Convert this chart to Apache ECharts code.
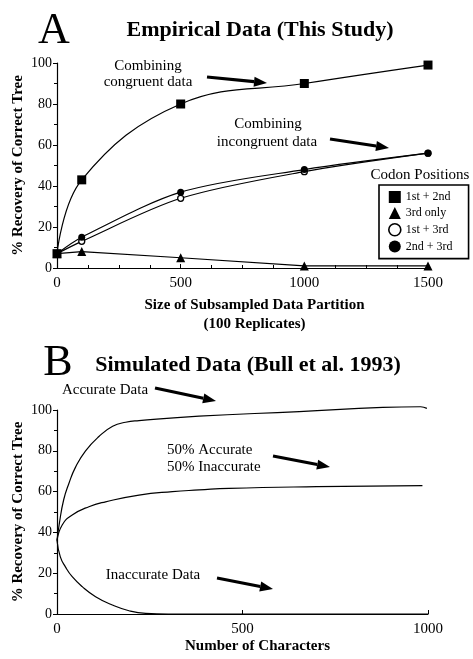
<!DOCTYPE html>
<html>
<head>
<meta charset="utf-8">
<script src="https://cdn.jsdelivr.net/npm/echarts@6/dist/echarts.min.js"></script>
<style>
  html, body { margin: 0; padding: 0; background: #fff; }
  #chart { width: 473px; height: 659px; }
</style>
</head>
<body>
<div id="chart"></div>
<script>
// Panel A: recovery of the correct tree vs. size of subsampled partition
const partitionSizes = [0, 100, 500, 1000, 1500];
const codon12 = [7, 43, 80, 90, 99];   // 1st + 2nd
const codon3  = [7, 8, 5, 1, 1];       // 3rd only
const codon13 = [7, 13, 34, 47, 56];   // 1st + 3rd
const codon23 = [7, 15, 37, 48, 56];   // 2nd + 3rd

// Panel B: simulated recovery vs. number of characters (Bull et al. 1993)
const accurateX   = [0, 6, 18, 32, 50, 77, 113, 150, 185, 221, 383, 653, 878, 980, 997];
const accurateY   = [36, 44, 56, 64, 72, 80, 87, 92, 94, 94.8, 97, 99.2, 101.3, 101.6, 100.8];
const mixedX      = [0, 14, 41, 86, 131, 221, 311, 383, 464, 700, 985];
const mixedY      = [36, 43.6, 48.5, 52.6, 55, 58.3, 60, 60.8, 61.6, 62.4, 62.9];
const inaccurateX = [0, 9, 23, 41, 68, 104, 149, 194, 239, 300, 600, 1000];
const inaccurateY = [36, 28, 23, 18.3, 13.4, 8.5, 4.4, 1.6, 0.3, 0, 0, 0];

const yTicks = [0, 20, 40, 60, 80, 100];

const SERIF = '"Liberation Serif", "DejaVu Serif", serif';
const pairs = (xs, ys) => xs.map((x, i) => [x, ys[i]]);

const chart = echarts.init(document.getElementById('chart'));

const axisLineStyle = { lineStyle: { color: '#000', width: 1.2 } };
const tickStyle = { lineStyle: { color: '#000', width: 1 } };

function yAxisCfg(gridIndex) {
  return {
    type: 'value', gridIndex, min: 0, max: 100, interval: 20,
    axisLine: Object.assign({ show: true }, axisLineStyle),
    axisTick: Object.assign({ show: true, length: 4 }, tickStyle),
    minorTick: { show: true, splitNumber: 2, length: 3, lineStyle: { color: '#000' } },
    splitLine: { show: false },
    axisLabel: { color: '#000', fontFamily: SERIF, fontSize: 14, margin: 5,
      formatter: v => yTicks.includes(v) ? String(v) : '' },
    name: '% Recovery of Correct Tree', nameLocation: 'middle', nameRotate: 90, nameGap: 31,
    nameMoveOverlap: false,
    nameTextStyle: { color: '#000', fontFamily: SERIF, fontSize: 15, fontWeight: 'bold' }
  };
}

function arrow(x1, y1, x2, y2) {
  const ang = Math.atan2(y2 - y1, x2 - x1);
  const headLen = 13, headHalf = 5;
  const bx = x2 - headLen * Math.cos(ang), by = y2 - headLen * Math.sin(ang);
  const px = -Math.sin(ang) * headHalf, py = Math.cos(ang) * headHalf;
  return [
    { type: 'line', shape: { x1, y1, x2: bx, y2: by }, style: { stroke: '#000', lineWidth: 3.2 } },
    { type: 'polygon', shape: { points: [[x2, y2], [bx + px, by + py], [bx - px, by - py]] }, style: { fill: '#000' } }
  ];
}

function label(text, x, y, size, weight, align) {
  return { type: 'text', x, y, style: { text, fill: '#000', font: `${weight || 'normal'} ${size}px ${SERIF}`,
    textAlign: align || 'center', textVerticalAlign: 'middle' } };
}

const lineCommon = { type: 'line', smooth: 0.4,
  lineStyle: { color: '#000', width: 1.2 }, itemStyle: { color: '#000' } };

const plainNumber = v => String(v);

chart.setOption({
  animation: false,
  backgroundColor: '#fff',
  grid: [
    { left: 57, right: 45, top: 63, height: 205, outerBoundsMode: 'none', containLabel: false },
    { left: 57, right: 45, top: 410, height: 204, outerBoundsMode: 'none', containLabel: false }
  ],
  xAxis: [
    {
      type: 'value', gridIndex: 0, min: 0, max: 1500, interval: 500,
      axisLine: Object.assign({ show: true, onZero: false }, axisLineStyle),
      axisTick: Object.assign({ show: true, inside: true, length: 4 }, tickStyle),
      minorTick: { show: true, splitNumber: 4, length: 3, lineStyle: { color: '#000' } },
      splitLine: { show: false },
      axisLabel: { color: '#000', fontFamily: SERIF, fontSize: 15, margin: 8, formatter: plainNumber },
      name: 'Size of Subsampled Data Partition\n(100 Replicates)', nameLocation: 'middle', nameGap: 28,
      nameMoveOverlap: false,
      nameTextStyle: { color: '#000', fontFamily: SERIF, fontSize: 15, fontWeight: 'bold', lineHeight: 19,
        padding: [0, 0, 0, 24], verticalAlign: 'top' }
    },
    {
      type: 'value', gridIndex: 1, min: 0, max: 1000, interval: 500,
      axisLine: Object.assign({ show: true, onZero: false }, axisLineStyle),
      axisTick: Object.assign({ show: true, inside: true, length: 4 }, tickStyle),
      splitLine: { show: false },
      axisLabel: { color: '#000', fontFamily: SERIF, fontSize: 15, margin: 8, formatter: plainNumber },
      name: 'Number of Characters', nameLocation: 'middle', nameGap: 25,
      nameMoveOverlap: false,
      nameTextStyle: { color: '#000', fontFamily: SERIF, fontSize: 15, fontWeight: 'bold',
        padding: [0, 0, 0, 30], verticalAlign: 'top' }
    }
  ],
  yAxis: [yAxisCfg(0), yAxisCfg(1)],
  legend: {
    orient: 'vertical', left: 379, top: 185,
    padding: [6, 16, 6, 9], itemGap: 4, itemWidth: 12, itemHeight: 12,
    borderColor: '#000', borderWidth: 1.6, borderRadius: 0,
    textStyle: { color: '#000', fontFamily: SERIF, fontSize: 12 },
    data: [
      { name: '1st + 2nd', icon: 'rect' },
      { name: '3rd only', icon: 'triangle' },
      { name: '1st + 3rd', icon: 'circle', itemStyle: { color: '#fff', borderColor: '#000', borderWidth: 1.6 } },
      { name: '2nd + 3rd', icon: 'circle' }
    ]
  },
  series: [
    Object.assign({}, lineCommon, { name: '1st + 2nd', xAxisIndex: 0, yAxisIndex: 0,
      data: pairs(partitionSizes, codon12), symbol: 'rect', symbolSize: 9 }),
    Object.assign({}, lineCommon, { name: '3rd only', xAxisIndex: 0, yAxisIndex: 0, smooth: false,
      data: pairs(partitionSizes, codon3), symbol: 'triangle', symbolSize: 9 }),
    Object.assign({}, lineCommon, { name: '1st + 3rd', xAxisIndex: 0, yAxisIndex: 0, smooth: 0.3,
      data: pairs(partitionSizes, codon13), symbol: 'circle', symbolSize: 6,
      itemStyle: { color: '#fff', borderColor: '#000', borderWidth: 1.3 } }),
    Object.assign({}, lineCommon, { name: '2nd + 3rd', xAxisIndex: 0, yAxisIndex: 0, smooth: 0.3,
      data: pairs(partitionSizes, codon23), symbol: 'circle', symbolSize: 7 }),
    Object.assign({}, lineCommon, { name: 'Accurate Data', xAxisIndex: 1, yAxisIndex: 1, clip: false,
      data: pairs(accurateX, accurateY), showSymbol: false, symbol: 'none', smooth: 0.5 }),
    Object.assign({}, lineCommon, { name: 'Mixed Data', xAxisIndex: 1, yAxisIndex: 1,
      data: pairs(mixedX, mixedY), showSymbol: false, symbol: 'none', smooth: 0.5 }),
    Object.assign({}, lineCommon, { name: 'Inaccurate Data', xAxisIndex: 1, yAxisIndex: 1,
      data: pairs(inaccurateX, inaccurateY), showSymbol: false, symbol: 'none', smooth: 0.5 })
  ],
  graphic: [
    label('A', 54, 31, 44, 'normal'),
    label('Empirical Data (This Study)', 260, 30, 22, 'bold'),
    label('Codon Positions', 420, 175, 15, 'normal'),
    label('Combining', 148, 66, 15, 'normal'),
    label('congruent data', 148, 82, 15, 'normal'),
    label('Combining', 268, 124, 15, 'normal'),
    label('incongruent data', 267, 142, 15, 'normal'),
    ...arrow(207, 77, 267, 83),
    ...arrow(330, 139, 389, 148),

    label('B', 58, 363, 44, 'normal'),
    label('Simulated Data (Bull et al. 1993)', 248, 365, 22, 'bold'),
    label('Accurate Data', 105, 390, 15, 'normal'),
    label('50% Accurate', 167, 450, 15, 'normal', 'left'),
    label('50% Inaccurate', 167, 467, 15, 'normal', 'left'),
    label('Inaccurate Data', 153, 575, 15, 'normal'),
    ...arrow(155, 388, 216, 401),
    ...arrow(273, 456, 330, 467),
    ...arrow(217, 578, 273, 589)
  ]
});
</script>
</body>
</html>
